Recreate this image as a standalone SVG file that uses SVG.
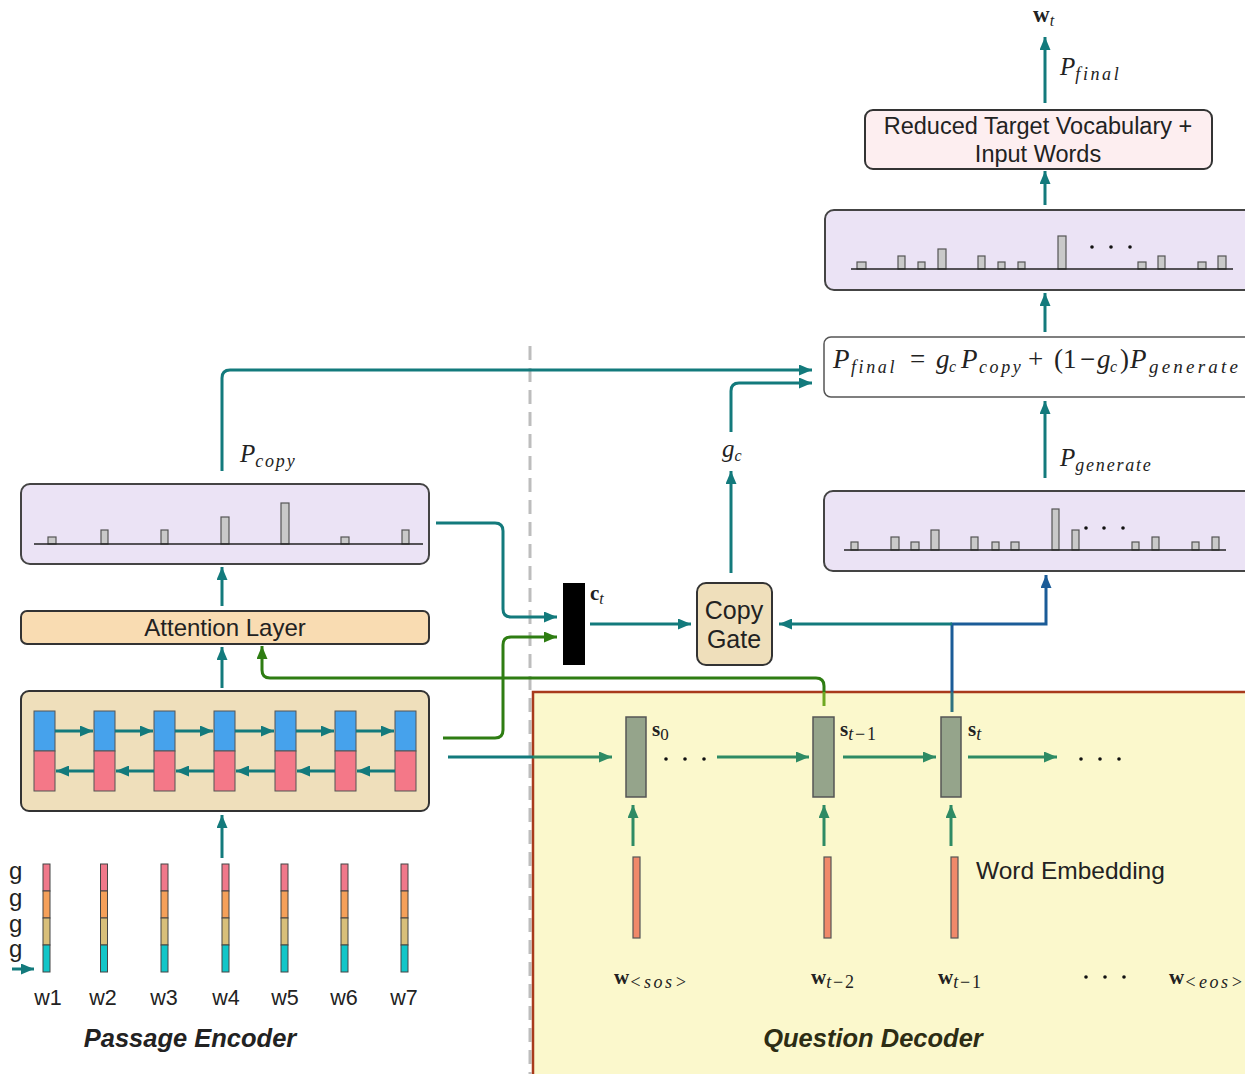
<svg xmlns="http://www.w3.org/2000/svg" width="1245" height="1074" viewBox="0 0 1245 1074">
<defs>
<marker id="aT" markerUnits="userSpaceOnUse" markerWidth="13" markerHeight="11" refX="13" refY="5.5" orient="auto"><path d="M0,0 L13,5.5 L0,11 z" fill="#137a7c"/></marker>
<marker id="aG" markerUnits="userSpaceOnUse" markerWidth="13" markerHeight="11" refX="13" refY="5.5" orient="auto"><path d="M0,0 L13,5.5 L0,11 z" fill="#2e7d12"/></marker>
<marker id="aB" markerUnits="userSpaceOnUse" markerWidth="13" markerHeight="11" refX="13" refY="5.5" orient="auto"><path d="M0,0 L13,5.5 L0,11 z" fill="#1b5c98"/></marker>
<marker id="aD" markerUnits="userSpaceOnUse" markerWidth="13" markerHeight="11" refX="13" refY="5.5" orient="auto"><path d="M0,0 L13,5.5 L0,11 z" fill="#2e8b64"/></marker>
</defs>
<style>
.box{stroke:#333;stroke-width:2}
.dist{fill:#ebe3f5;stroke:#444;stroke-width:2}
.bar{fill:#c9c9c9;stroke:#555;stroke-width:1.2}
.base{stroke:#222;stroke-width:1.5}
.t{stroke:#137a7c;stroke-width:3;fill:none}
.g{stroke:#2e7d12;stroke-width:3;fill:none}
.b{stroke:#1b5c98;stroke-width:3;fill:none}
.d{stroke:#2e8b64;stroke-width:3;fill:none}
.sans{font-family:"Liberation Sans",Arial,sans-serif;fill:#222}
.serif{font-family:"Liberation Serif","DejaVu Serif",serif;fill:#222}
.it{font-style:italic}
.bf{font-weight:bold}
.sub{font-size:18px;letter-spacing:1.8px;font-style:italic;font-weight:normal}
.rm{font-style:normal}
.blue{fill:#46a2ec;stroke:#555;stroke-width:1}
.pink{fill:#f47888;stroke:#555;stroke-width:1}
.st{fill:#95a48b;stroke:#555;stroke-width:1.5}
.emb{fill:#f0896a;stroke:#555;stroke-width:1.2}
.ep{fill:#f0788a;stroke:#444;stroke-width:1}
.eo{fill:#f5a05a;stroke:#444;stroke-width:1}
.et{fill:#d8bf7a;stroke:#444;stroke-width:1}
.ec{fill:#12c6c8;stroke:#444;stroke-width:1}
.dot{fill:#111}
</style>

<!-- dashed separator -->
<line x1="530" y1="346" x2="530" y2="1074" stroke="#bdbdbd" stroke-width="3" stroke-dasharray="14 8"/>

<g id="question-decoder">
<rect x="533" y="692" width="720" height="400" fill="#fbf8cc" stroke="#a83a1c" stroke-width="2.5"/>
<text x="873" y="1047" class="sans it bf" font-size="25.5" text-anchor="middle" style="fill:#2d2d14">Question Decoder</text>
</g>

<g id="connectors">
<line x1="448" y1="757" x2="533" y2="757" class="t"/>
<line x1="533" y1="757" x2="612" y2="757" class="d" marker-end="url(#aD)"/>
<line x1="717" y1="757" x2="809" y2="757" class="d" marker-end="url(#aD)"/>
<line x1="843" y1="757" x2="936" y2="757" class="d" marker-end="url(#aD)"/>
<line x1="968" y1="757" x2="1057" y2="757" class="d" marker-end="url(#aD)"/>
<line x1="633" y1="846" x2="633" y2="805" class="d" marker-end="url(#aD)"/>
<line x1="824" y1="846" x2="824" y2="805" class="d" marker-end="url(#aD)"/>
<line x1="951" y1="846" x2="951" y2="805" class="d" marker-end="url(#aD)"/>
<path d="M824,692 V686 Q824,678 816,678 H270 Q262,678 262,670 V646" class="g" marker-end="url(#aG)"/>
<line x1="824" y1="706" x2="824" y2="692" stroke="#6ea821" stroke-width="3"/>
<line x1="952" y1="712" x2="952" y2="692" stroke="#2f7280" stroke-width="3"/>
<path d="M952,692 V624 H1046 V575" class="b" marker-end="url(#aB)"/>
<line x1="952" y1="624" x2="779" y2="624" class="t" marker-end="url(#aT)"/>
<path d="M443,738 H495 Q503,738 503,730 V645 Q503,637 511,637 H557" class="g" marker-end="url(#aG)"/>
<path d="M436,523 H495 Q503,523 503,531 V609 Q503,617 511,617 H557" class="t" marker-end="url(#aT)"/>
<line x1="590" y1="624" x2="691" y2="624" class="t" marker-end="url(#aT)"/>
<line x1="731" y1="573" x2="731" y2="471" class="t" marker-end="url(#aT)"/>
<path d="M731,432 V391 Q731,383 739,383 H812" class="t" marker-end="url(#aT)"/>
<path d="M222,471 V378 Q222,370 230,370 H812" class="t" marker-end="url(#aT)"/>
<line x1="222" y1="858" x2="222" y2="815" class="t" marker-end="url(#aT)"/>
<line x1="222" y1="688" x2="222" y2="647" class="t" marker-end="url(#aT)"/>
<line x1="222" y1="606" x2="222" y2="567" class="t" marker-end="url(#aT)"/>
<line x1="12" y1="969" x2="34" y2="969" class="t" marker-end="url(#aT)"/>
<line x1="1045" y1="478" x2="1045" y2="401" class="t" marker-end="url(#aT)"/>
<line x1="1045" y1="332" x2="1045" y2="293" class="t" marker-end="url(#aT)"/>
<line x1="1045" y1="205" x2="1045" y2="171" class="t" marker-end="url(#aT)"/>
<line x1="1045" y1="103" x2="1045" y2="37" class="t" marker-end="url(#aT)"/>
</g>

<g id="word-vectors">
<g transform="translate(43,0)"><rect x="0" y="864" width="7" height="27" class="ep"/><rect x="0" y="891" width="7" height="27" class="eo"/><rect x="0" y="918" width="7" height="27" class="et"/><rect x="0" y="945" width="7" height="27" class="ec"/></g>
<g transform="translate(100.5,0)"><rect x="0" y="864" width="7" height="27" class="ep"/><rect x="0" y="891" width="7" height="27" class="eo"/><rect x="0" y="918" width="7" height="27" class="et"/><rect x="0" y="945" width="7" height="27" class="ec"/></g>
<g transform="translate(161,0)"><rect x="0" y="864" width="7" height="27" class="ep"/><rect x="0" y="891" width="7" height="27" class="eo"/><rect x="0" y="918" width="7" height="27" class="et"/><rect x="0" y="945" width="7" height="27" class="ec"/></g>
<g transform="translate(222,0)"><rect x="0" y="864" width="7" height="27" class="ep"/><rect x="0" y="891" width="7" height="27" class="eo"/><rect x="0" y="918" width="7" height="27" class="et"/><rect x="0" y="945" width="7" height="27" class="ec"/></g>
<g transform="translate(281,0)"><rect x="0" y="864" width="7" height="27" class="ep"/><rect x="0" y="891" width="7" height="27" class="eo"/><rect x="0" y="918" width="7" height="27" class="et"/><rect x="0" y="945" width="7" height="27" class="ec"/></g>
<g transform="translate(341,0)"><rect x="0" y="864" width="7" height="27" class="ep"/><rect x="0" y="891" width="7" height="27" class="eo"/><rect x="0" y="918" width="7" height="27" class="et"/><rect x="0" y="945" width="7" height="27" class="ec"/></g>
<g transform="translate(401,0)"><rect x="0" y="864" width="7" height="27" class="ep"/><rect x="0" y="891" width="7" height="27" class="eo"/><rect x="0" y="918" width="7" height="27" class="et"/><rect x="0" y="945" width="7" height="27" class="ec"/></g>
<text x="9" y="879" class="sans" font-size="24">g</text>
<text x="9" y="906" class="sans" font-size="24">g</text>
<text x="9" y="932" class="sans" font-size="24">g</text>
<text x="9" y="957" class="sans" font-size="24">g</text>
<g class="sans" font-size="21.5" text-anchor="middle">
<text x="48" y="1005">w1</text><text x="103" y="1005">w2</text><text x="164" y="1005">w3</text><text x="226" y="1005">w4</text><text x="285" y="1005">w5</text><text x="344" y="1005">w6</text><text x="404" y="1005">w7</text>
</g>
<text x="190" y="1047" class="sans it bf" font-size="25.5" text-anchor="middle">Passage Encoder</text>
</g>

<g id="passage-encoder">
<rect x="21" y="691" width="408" height="120" rx="8" fill="#efdfbb" class="box"/>
<rect x="34" y="711" width="21" height="40" class="blue"/><rect x="34" y="751" width="21" height="40" class="pink"/>
<rect x="94" y="711" width="21" height="40" class="blue"/><rect x="94" y="751" width="21" height="40" class="pink"/>
<rect x="154" y="711" width="21" height="40" class="blue"/><rect x="154" y="751" width="21" height="40" class="pink"/>
<rect x="214" y="711" width="21" height="40" class="blue"/><rect x="214" y="751" width="21" height="40" class="pink"/>
<rect x="275" y="711" width="21" height="40" class="blue"/><rect x="275" y="751" width="21" height="40" class="pink"/>
<rect x="335" y="711" width="21" height="40" class="blue"/><rect x="335" y="751" width="21" height="40" class="pink"/>
<rect x="395" y="711" width="21" height="40" class="blue"/><rect x="395" y="751" width="21" height="40" class="pink"/>
<g class="t" stroke-width="2.5">
<line x1="55" y1="731" x2="93" y2="731" marker-end="url(#aT)"/>
<line x1="115" y1="731" x2="153" y2="731" marker-end="url(#aT)"/>
<line x1="175" y1="731" x2="213" y2="731" marker-end="url(#aT)"/>
<line x1="235" y1="731" x2="274" y2="731" marker-end="url(#aT)"/>
<line x1="296" y1="731" x2="334" y2="731" marker-end="url(#aT)"/>
<line x1="356" y1="731" x2="394" y2="731" marker-end="url(#aT)"/>
<line x1="94" y1="771" x2="56" y2="771" marker-end="url(#aT)"/>
<line x1="154" y1="771" x2="116" y2="771" marker-end="url(#aT)"/>
<line x1="214" y1="771" x2="176" y2="771" marker-end="url(#aT)"/>
<line x1="275" y1="771" x2="236" y2="771" marker-end="url(#aT)"/>
<line x1="335" y1="771" x2="297" y2="771" marker-end="url(#aT)"/>
<line x1="395" y1="771" x2="357" y2="771" marker-end="url(#aT)"/>
</g>
</g>

<g id="attention-layer">
<rect x="21" y="611" width="408" height="33" rx="6" fill="#f9dcb2" class="box"/>
<text x="225" y="636" class="sans" font-size="24" text-anchor="middle">Attention Layer</text>
</g>

<g id="copy-distribution">
<rect x="21" y="484" width="408" height="80" rx="9" class="dist"/>
<rect x="48" y="537" width="8" height="7" class="bar"/>
<rect x="101" y="530" width="7" height="14" class="bar"/>
<rect x="161" y="530" width="7" height="14" class="bar"/>
<rect x="221" y="517" width="8" height="27" class="bar"/>
<rect x="281" y="503" width="8" height="41" class="bar"/>
<rect x="341" y="537" width="8" height="7" class="bar"/>
<rect x="402" y="530" width="7" height="14" class="bar"/>
<line x1="34" y1="544" x2="423" y2="544" class="base"/>
<text x="240" y="462" class="serif it" font-size="25">P<tspan class="sub" dy="5">copy</tspan></text>
</g>

<g id="context-vector">
<rect x="563" y="583" width="22" height="82" fill="#000"/>
<text x="590" y="600" class="serif bf" font-size="21">c<tspan class="sub" style="font-size:16px" dy="4">t</tspan></text>
</g>

<g id="copy-gate">
<rect x="697" y="583" width="75" height="82" rx="9" fill="#efdfbb" class="box"/>
<text x="734" y="619" class="sans" font-size="25" text-anchor="middle">Copy</text>
<text x="734" y="648" class="sans" font-size="25" text-anchor="middle">Gate</text>
<text x="722" y="457" class="serif it" font-size="25">g<tspan class="sub" style="font-size:16px" dy="4">c</tspan></text>
</g>

<g id="generate-distribution">
<rect x="824" y="491" width="440" height="80" rx="9" class="dist"/>
<rect x="851" y="542" width="7" height="8" class="bar"/>
<rect x="891" y="537" width="8" height="13" class="bar"/>
<rect x="911" y="542" width="8" height="8" class="bar"/>
<rect x="931" y="530" width="8" height="20" class="bar"/>
<rect x="971" y="537" width="7" height="13" class="bar"/>
<rect x="992" y="542" width="7" height="8" class="bar"/>
<rect x="1011" y="542" width="8" height="8" class="bar"/>
<rect x="1052" y="509" width="7" height="41" class="bar"/>
<rect x="1072" y="530" width="7" height="20" class="bar"/>
<rect x="1132" y="542" width="7" height="8" class="bar"/>
<rect x="1152" y="537" width="7" height="13" class="bar"/>
<rect x="1192" y="542" width="7" height="8" class="bar"/>
<rect x="1212" y="537" width="7" height="13" class="bar"/>
<line x1="844" y1="550" x2="1226" y2="550" class="base"/>
<circle cx="1086" cy="528" r="1.8" class="dot"/><circle cx="1104" cy="528" r="1.8" class="dot"/><circle cx="1123" cy="528" r="1.8" class="dot"/>
<text x="1060" y="466" class="serif it" font-size="25">P<tspan class="sub" dy="5">generate</tspan></text>
</g>

<g id="final-formula">
<rect x="824" y="337" width="440" height="60" rx="7" fill="#fff" stroke="#555" stroke-width="1.5"/>
<text y="368" class="serif it" font-size="27"><tspan x="833">P</tspan><tspan x="851" class="sub" style="letter-spacing:2.6px" dy="5">final</tspan><tspan x="910" dy="-5" class="rm">=</tspan><tspan x="936">g</tspan><tspan x="949" class="sub" style="font-size:16px" dy="4">c</tspan><tspan x="961" dy="-4">P</tspan><tspan x="979" class="sub" style="letter-spacing:2.6px" dy="5">copy</tspan><tspan x="1028" dy="-5" class="rm">+</tspan><tspan x="1054" class="rm">(1</tspan><tspan x="1080" class="rm">−</tspan><tspan x="1097">g</tspan><tspan x="1110" class="sub" style="font-size:16px" dy="4">c</tspan><tspan x="1120" dy="-4" class="rm">)</tspan><tspan x="1130">P</tspan><tspan x="1149" class="sub" style="font-size:19px;letter-spacing:3.2px" dy="5">generate</tspan></text>
</g>

<g id="final-distribution">
<rect x="825" y="210" width="440" height="80" rx="9" class="dist"/>
<rect x="857" y="262" width="9" height="7" class="bar"/>
<rect x="898" y="256" width="7" height="13" class="bar"/>
<rect x="918" y="262" width="7" height="7" class="bar"/>
<rect x="938" y="249" width="8" height="20" class="bar"/>
<rect x="978" y="256" width="7" height="13" class="bar"/>
<rect x="998" y="262" width="7" height="7" class="bar"/>
<rect x="1018" y="262" width="7" height="7" class="bar"/>
<rect x="1058" y="236" width="8" height="33" class="bar"/>
<rect x="1138" y="262" width="8" height="7" class="bar"/>
<rect x="1158" y="256" width="7" height="13" class="bar"/>
<rect x="1198" y="262" width="8" height="7" class="bar"/>
<rect x="1218" y="256" width="8" height="13" class="bar"/>
<line x1="851" y1="269" x2="1233" y2="269" class="base"/>
<circle cx="1092" cy="247" r="1.8" class="dot"/><circle cx="1111" cy="247" r="1.8" class="dot"/><circle cx="1130" cy="247" r="1.8" class="dot"/>
</g>

<g id="reduced-vocabulary">
<rect x="865" y="110" width="347" height="59" rx="8" fill="#fdeef0" class="box"/>
<text x="1038" y="134" class="sans" font-size="23.5" text-anchor="middle">Reduced Target Vocabulary +</text>
<text x="1038" y="162" class="sans" font-size="23.5" text-anchor="middle">Input Words</text>
</g>

<g id="output-word">
<text x="1033" y="22" class="serif bf" font-size="23">w<tspan class="sub" style="font-size:16px" dy="4">t</tspan></text>
<text x="1060" y="75" class="serif it" font-size="25">P<tspan class="sub" style="letter-spacing:2.6px" dy="5">final</tspan></text>
</g>

<g id="decoder-states">
<rect x="626" y="717" width="20" height="80" class="st"/>
<text x="652" y="736" class="serif bf" font-size="21">s<tspan font-weight="normal" font-size="17" dy="4">0</tspan></text>
<circle cx="666" cy="759" r="1.8" class="dot"/><circle cx="685" cy="759" r="1.8" class="dot"/><circle cx="704" cy="759" r="1.8" class="dot"/>
<rect x="813" y="717" width="21" height="80" class="st"/>
<text x="840" y="736" class="serif bf" font-size="21">s<tspan class="sub" dy="4">t</tspan><tspan class="sub" style="font-style:normal">−1</tspan></text>
<rect x="941" y="717" width="20" height="80" class="st"/>
<text x="968" y="736" class="serif bf" font-size="21">s<tspan class="sub" dy="4">t</tspan></text>
<circle cx="1081" cy="759" r="1.8" class="dot"/><circle cx="1100" cy="759" r="1.8" class="dot"/><circle cx="1119" cy="759" r="1.8" class="dot"/>
</g>

<g id="word-embeddings">
<rect x="633" y="857" width="7" height="81" class="emb"/>
<rect x="824" y="857" width="7" height="81" class="emb"/>
<rect x="951" y="857" width="7" height="81" class="emb"/>
<text x="976" y="879" class="sans" font-size="24.5">Word Embedding</text>
<text x="614" y="984" class="serif bf" font-size="21">w<tspan class="sub" style="letter-spacing:2.6px" dy="4">&lt;sos&gt;</tspan></text>
<text x="811" y="984" class="serif bf" font-size="21">w<tspan class="sub" dy="4">t</tspan><tspan class="sub" style="font-style:normal">−2</tspan></text>
<text x="938" y="984" class="serif bf" font-size="21">w<tspan class="sub" dy="4">t</tspan><tspan class="sub" style="font-style:normal">−1</tspan></text>
<circle cx="1086" cy="977" r="1.8" class="dot"/><circle cx="1105" cy="977" r="1.8" class="dot"/><circle cx="1124" cy="977" r="1.8" class="dot"/>
<text x="1169" y="984" class="serif bf" font-size="21">w<tspan class="sub" style="letter-spacing:2.6px" dy="4">&lt;eos&gt;</tspan></text>
</g>
</svg>
